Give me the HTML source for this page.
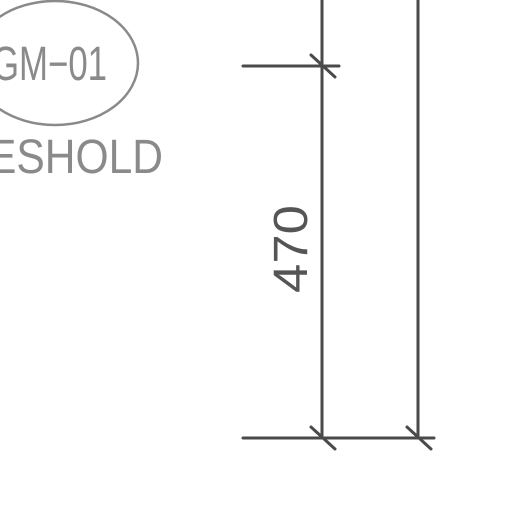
<!DOCTYPE html>
<html><head><meta charset="utf-8"><style>html,body{margin:0;padding:0;background:#fff}svg{display:block}</style></head>
<body>
<svg width="512" height="512" viewBox="0 0 512 512">
  <g>
    <ellipse cx="55" cy="63" rx="83" ry="62" fill="none" stroke="#8a8a8a" stroke-width="2.5"/>
    <text x="107" y="80" text-anchor="end" font-family="Liberation Sans, sans-serif" font-size="48" fill="#8a8a8a" textLength="115" lengthAdjust="spacingAndGlyphs">GM−01</text>
  </g>
  <text x="163" y="173" text-anchor="end" font-family="Liberation Sans, sans-serif" font-size="48" fill="#8a8a8a" textLength="175" lengthAdjust="spacingAndGlyphs">ESHOLD</text>
  <g stroke="#4a4a4a" stroke-width="3" stroke-linecap="round" fill="none">
    <line x1="322" y1="0" x2="322" y2="438"/>
    <line x1="418" y1="0" x2="418" y2="438"/>
    <line x1="243" y1="66" x2="339" y2="66"/>
    <line x1="243" y1="438" x2="434" y2="438"/>
    <line x1="311" y1="55" x2="335" y2="77"/>
    <line x1="311" y1="427" x2="335" y2="449"/>
    <line x1="407" y1="427" x2="431" y2="449"/>
  </g>
  <text transform="translate(307,293) rotate(-90)" font-family="Liberation Sans, sans-serif" font-size="48" fill="#555" textLength="88" lengthAdjust="spacingAndGlyphs">470</text>
</svg>
</body></html>
